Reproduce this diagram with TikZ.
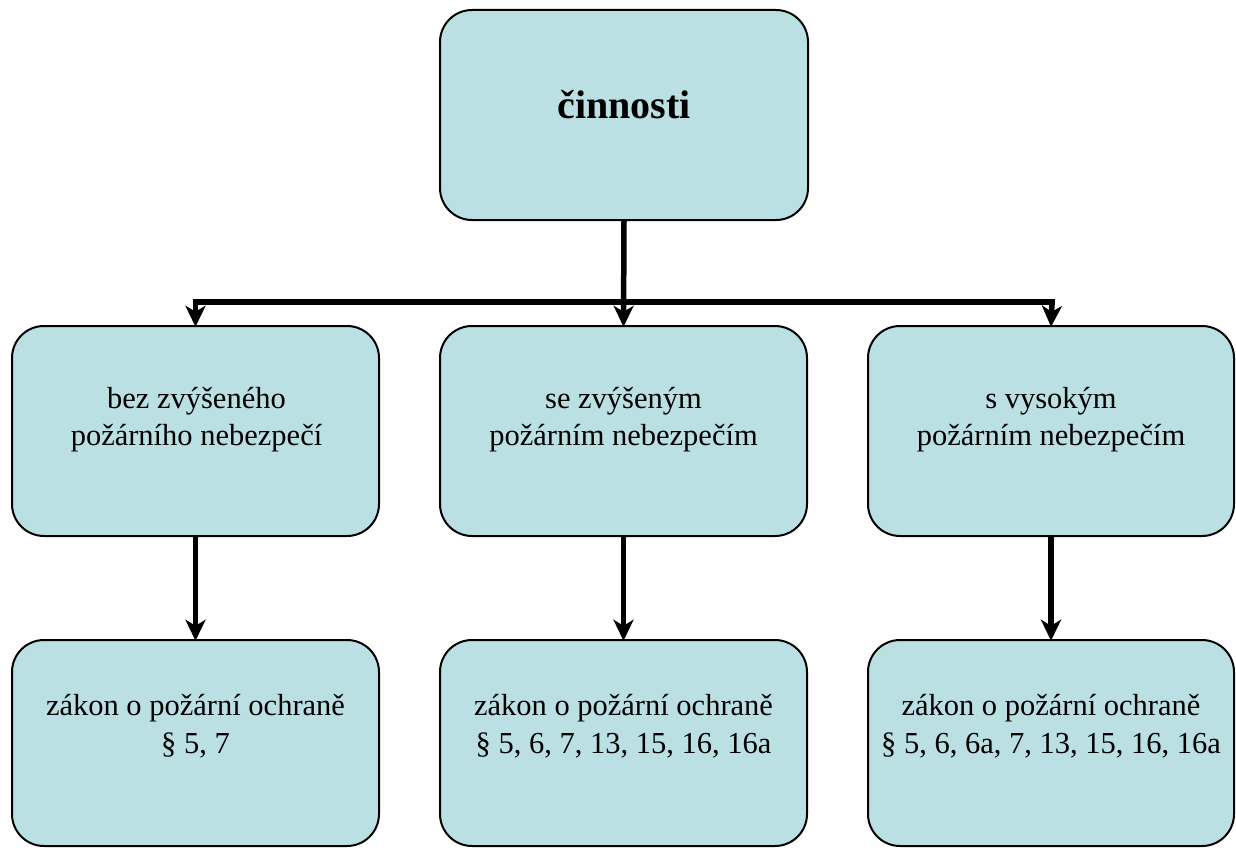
\documentclass[tikz,border=0pt]{standalone}
\usepackage{fontspec}
\setmainfont{Liberation Serif}
\usetikzlibrary{arrows.meta}
\definecolor{boxfill}{RGB}{187,224,227}
\begin{document}
\begin{tikzpicture}[x=1pt,y=-1pt,
  box/.style={draw=black, line width=2pt, fill=boxfill, rounded corners=32pt, inner sep=0pt},
  lbl/.style={align=center, inner sep=0pt, font=\fontsize{30.5}{37.5}\selectfont},
  conn/.style={line width=5.5pt, -{Stealth[length=21pt,width=20pt,inset=6pt]}},
  bar/.style={line width=5.5pt}]
\useasboundingbox (0,0) rectangle (1236,848);
% boxes
\path[box] (440,10) rectangle (808,220);
\node[inner sep=0pt, minimum width=368pt, minimum height=210pt] (top) at (624,115) {};
\path[box] (12,326) rectangle (379,536);
\node[inner sep=0pt, minimum width=367pt, minimum height=210pt] (m1) at (195.5,431) {};
\path[box] (440,326) rectangle (807,536);
\node[inner sep=0pt, minimum width=367pt, minimum height=210pt] (m2) at (623.5,431) {};
\path[box] (868,326) rectangle (1234,536);
\node[inner sep=0pt, minimum width=366pt, minimum height=210pt] (m3) at (1051,431) {};
\path[box] (12,640) rectangle (379,846);
\node[inner sep=0pt, minimum width=367pt, minimum height=206pt] (b1) at (195.5,743) {};
\path[box] (440,640) rectangle (807,846);
\node[inner sep=0pt, minimum width=367pt, minimum height=206pt] (b2) at (623.5,743) {};
\path[box] (868,640) rectangle (1234,846);
\node[inner sep=0pt, minimum width=366pt, minimum height=206pt] (b3) at (1051,743) {};
% texts
\node[inner sep=0pt, anchor=base, font=\fontsize{40}{46}\selectfont\bfseries] (ttop) at (624,118) {činnosti};
\node[lbl] (tm1) at (196.5,419.5) {bez zvýšeného\\požárního nebezpečí};
\node[lbl] (tm2) at (623.5,419.5) {se zvýšeným\\požárním nebezpečím};
\node[lbl] (tm3) at (1051,419.5) {s vysokým\\požárním nebezpečím};
\node[lbl] (tb1) at (195.5,726) {zákon o požární ochraně\\§ 5, 7};
\node[lbl] (tb2) at (623.5,726) {zákon o požární ochraně\\§ 5, 6, 7, 13, 15, 16, 16a};
\node[lbl] (tb3) at (1051,726) {zákon o požární ochraně\\§ 5, 6, 6a, 7, 13, 15, 16, 16a};
% connectors
\coordinate (hl) at (195.5,302);
\coordinate (hr) at (1052,302);
\draw[bar] ([xshift=-2.75pt]hl) -- ([xshift=2.75pt]hr);
\draw[conn] (top.south) -- ([yshift=-1pt]m2.north);
\draw[conn] (hl) -- ([yshift=-1pt]m1.north);
\draw[conn] (hr) -- ([yshift=-1pt]m3.north);
\draw[conn] (m1.south) -- ([yshift=-1pt]b1.north);
\draw[conn] (m2.south) -- ([yshift=-1pt]b2.north);
\draw[conn] (m3.south) -- ([yshift=-1pt]b3.north);
\end{tikzpicture}
\end{document}
